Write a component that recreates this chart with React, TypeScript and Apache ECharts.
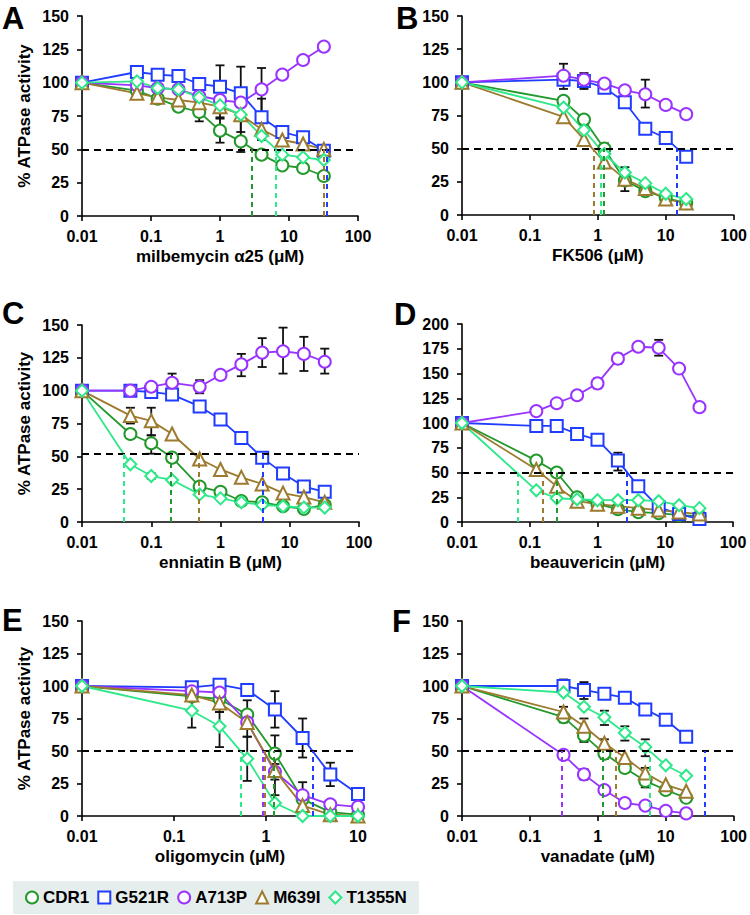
import React, { useEffect, useRef } from 'react';
import * as echarts from 'echarts';

// ---------- shared ----------
const SERIES_NAMES = ['CDR1', 'G521R', 'A713P', 'M639I', 'T1355N'];
const COLORS = ['#22992a', '#1f3cff', '#9933ff', '#9c7a2e', '#2ee88a'];
const SYMBOLS = ['circle', 'rect', 'circle', 'triangle', 'diamond'];
const X_TICK_LABELS = ['0.01', '0.1', '1', '10', '100'];

// ---------- Panel A: milbemycin α25 ----------
const A_X = [0.01, 0.0625, 0.125, 0.25, 0.5, 1, 2, 4, 8, 16, 32];
const A_CDR1 = [100, 94, 88, 82, 78, 64, 56, 46, 38, 36, 30];
const A_G521R = [100, 108, 106, 105, 99, 97, 92, 74, 63, 59, 49];
const A_A713P = [100, 98, 96, 95, 90, 87, 85, 95, 106, 117, 127];
const A_M639I = [100, 92, 89, 87, 85, 82, 76, 65, 57, 54, 50];
const A_T1355N = [100, 101, 96, 95, 89, 83, 76, 60, 46, 44, 42];
const A_IC50 = [2.85, 35.5, null, 31.8, 6.4];
const A_ERR = [[0.5, 71, 85], [1, 73, 113], [1, 55, 74], [2, 48, 112], [2, 63, 88], [4, 57, 111], [4, 62, 88]];

// ---------- Panel B: FK506 ----------
const B_X = [0.01, 0.3125, 0.625, 1.25, 2.5, 5, 10, 20];
const B_CDR1 = [100, 86, 72, 50, 26, 18, 13, 9];
const B_G521R = [100, 102, 101, 96, 85, 65, 58, 44];
const B_A713P = [100, 105, 102, 99, 94, 91, 83, 76];
const B_M639I = [100, 74, 57, 40, 27, 20, 12, 9];
const B_T1355N = [100, 81, 64, 46, 32, 24, 16, 12];
const B_IC50 = [1.23, 14.7, null, 0.88, 1.1];
const B_ERR = [[0.3125, 95, 114], [0.625, 95, 107], [5, 81, 102], [2.5, 18, 36], [1.25, 44, 54]];

// ---------- Panel C: enniatin B ----------
const C_X = [0.01, 0.05, 0.1, 0.2, 0.5, 1, 2, 4, 8, 16, 32];
const C_CDR1 = [100, 67, 60, 49, 27, 23, 16, 15, 12, 10, 13];
const C_G521R = [100, 100, 99, 97, 88, 78, 64, 49, 37, 27, 23];
const C_A713P = [100, 100, 103, 106, 103, 112, 120, 129, 130, 128, 122];
const C_M639I = [100, 81, 77, 67, 48, 40, 34, 29, 22, 19, 15];
const C_T1355N = [100, 44, 35, 32, 21, 18, 15, 13, 12, 11, 11];
const C_IC50 = [0.19, 4.1, null, 0.49, 0.04];
const C_ERR = [[0.2, 100, 113], [0.5, 98, 108], [2, 111, 128], [4, 118, 140], [8, 113, 148], [16, 115, 141], [32, 113, 132], [0.05, 75, 87], [0.1, 66, 87], [0.1, 52, 66], [0.1, 33, 37]];

// ---------- Panel D: beauvericin ----------
const D_X = [0.01, 0.125, 0.25, 0.5, 1, 2, 4, 8, 16, 32];
const D_CDR1 = [100, 62, 50, 25, 18, 13, 10, 9, 7, 6];
const D_G521R = [100, 97, 97, 89, 83, 62, 36, 15, 8, 3];
const D_A713P = [100, 112, 120, 128, 140, 165, 177, 176, 155, 116];
const D_M639I = [100, 53, 36, 21, 18, 16, 14, 12, 10, 8];
const D_T1355N = [100, 32, 24, 23, 22, 22, 22, 21, 17, 14];
const D_IC50 = [0.25, 2.69, null, 0.156, 0.067];
const D_ERR = [[8, 168, 184], [2, 52, 70], [2, 160, 170], [1, 135, 145]];

// ---------- Panel E: oligomycin ----------
const E_X = [0.01, 0.15625, 0.3125, 0.625, 1.25, 2.5, 5, 10];
const E_CDR1 = [100, 92, 90, 78, 48, 13, 3, 1];
const E_G521R = [100, 99, 101, 97, 82, 60, 32, 17];
const E_A713P = [100, 96, 95, 72, 34, 16, 9, 7];
const E_M639I = [100, 93, 87, 72, 35, 8, 1, 0];
const E_T1355N = [100, 81, 69, 44, 10, 0, 0, 0];
const E_IC50 = [1.22, 3.24, 0.93, 0.98, 0.53];
const E_ERR = [[0.15625, 68, 92], [0.3125, 53, 80], [0.3125, 80, 93], [0.625, 61, 89], [0.625, 27, 61], [1.25, 68, 96], [1.25, 28, 62], [1.25, 16, 40], [2.5, 45, 75], [2.5, 5, 26], [5, 23, 41]];

// ---------- Panel F: vanadate ----------
const F_X = [0.01, 0.3125, 0.625, 1.25, 2.5, 5, 10, 20];
const F_CDR1 = [100, 76, 62, 48, 37, 27, 20, 14];
const F_G521R = [100, 100, 97, 94, 91, 82, 74, 61];
const F_A713P = [100, 47, 32, 20, 10, 8, 4, 2];
const F_M639I = [100, 80, 69, 56, 45, 33, 24, 19];
const F_T1355N = [100, 95, 84, 76, 64, 53, 39, 31];
const F_IC50 = [1.18, 37, 0.29, 1.86, 5.9];
const F_ERR = [[0.3125, 95, 105], [0.625, 90, 103], [1.25, 70, 81], [2.5, 58, 69], [5, 46, 59], [0.3125, 72, 84], [0.625, 57, 75], [1.25, 44, 59], [5, 22, 37], [0.625, 28, 36]];

const PANELS = [
  { letter: 'A', title: 'milbemycin α25 (μM)', x: A_X, ys: [A_CDR1, A_G521R, A_A713P, A_M639I, A_T1355N], ic50: A_IC50, err: A_ERR, ref: 50, xMax: 100, yMax: 150 },
  { letter: 'B', title: 'FK506 (μM)', x: B_X, ys: [B_CDR1, B_G521R, B_A713P, B_M639I, B_T1355N], ic50: B_IC50, err: B_ERR, ref: 50, xMax: 100, yMax: 150 },
  { letter: 'C', title: 'enniatin B (μM)', x: C_X, ys: [C_CDR1, C_G521R, C_A713P, C_M639I, C_T1355N], ic50: C_IC50, err: C_ERR, ref: 52, xMax: 100, yMax: 150 },
  { letter: 'D', title: 'beauvericin (μM)', x: D_X, ys: [D_CDR1, D_G521R, D_A713P, D_M639I, D_T1355N], ic50: D_IC50, err: D_ERR, ref: 50, xMax: 100, yMax: 200 },
  { letter: 'E', title: 'oligomycin (μM)', x: E_X, ys: [E_CDR1, E_G521R, E_A713P, E_M639I, E_T1355N], ic50: E_IC50, err: E_ERR, ref: 50, xMax: 10, yMax: 150 },
  { letter: 'F', title: 'vanadate (μM)', x: F_X, ys: [F_CDR1, F_G521R, F_A713P, F_M639I, F_T1355N], ic50: F_IC50, err: F_ERR, ref: 50, xMax: 100, yMax: 150 },
];

// layout (pixels)
const GRIDS = [
  { left: 82, top: 16, width: 276, height: 200 },
  { left: 462, top: 16, width: 272, height: 199 },
  { left: 82, top: 325, width: 277, height: 197 },
  { left: 462, top: 324, width: 271, height: 198 },
  { left: 82, top: 621, width: 276, height: 195 },
  { left: 462, top: 621, width: 272, height: 195 },
];
const LETTER_POS = [[2, 3], [396, 3], [2, 298], [394, 299], [2, 605], [392, 606]];

const FONT = '"Liberation Sans", Arial, sans-serif';

export default function App() {
  const ref = useRef<HTMLDivElement>(null);
  useEffect(() => {
    document.body.style.margin = '0';
    if (!ref.current) return;
    const chart = echarts.init(ref.current, null, { renderer: 'svg' });

    const axisText = { fontFamily: FONT, fontWeight: 'bold', fontSize: 16, color: '#000' };
    const nameText = { fontFamily: FONT, fontWeight: 'bold', fontSize: 17, color: '#000' };

    const xAxis = PANELS.map((p, i) => ({
      type: 'log', logBase: 10, gridIndex: i, min: 0.01, max: p.xMax,
      name: p.title, nameLocation: 'middle', nameGap: 32, nameTextStyle: nameText,
      axisLine: { show: true, lineStyle: { color: '#000', width: 1.6 } },
      axisTick: { show: true, length: 5, lineStyle: { color: '#000', width: 1.6 } },
      minorTick: { show: false }, splitLine: { show: false }, minorSplitLine: { show: false },
      axisLabel: {
        ...axisText, margin: 12,
        formatter: (v: number) => X_TICK_LABELS[Math.round(Math.log10(v)) + 2],
      },
    }));

    const yAxis = PANELS.map((p, i) => ({
      type: 'value', gridIndex: i, min: 0, max: p.yMax, interval: 25,
      name: i % 2 === 0 ? '% ATPase activity' : '', nameLocation: 'middle', nameGap: 49, nameTextStyle: nameText,
      axisLine: { show: true, lineStyle: { color: '#000', width: 1.6 } },
      axisTick: { show: true, length: 5, lineStyle: { color: '#000', width: 1.6 } },
      splitLine: { show: false },
      axisLabel: { ...axisText, margin: 13 },
    }));

    const series: any[] = [];
    PANELS.forEach((p, i) => {
      // error bars
      series.push({
        type: 'custom', xAxisIndex: i, yAxisIndex: i, z: 1, silent: true, clip: false,
        encode: { x: 0, y: [1, 2] },
        data: p.err,
        renderItem: (_params: any, api: any) => {
          const xv = api.value(0);
          const lo = api.coord([xv, api.value(1)]);
          const hi = api.coord([xv, api.value(2)]);
          const w = 4.5;
          const st = { stroke: '#111', lineWidth: 1.8 };
          return {
            type: 'group',
            children: [
              { type: 'line', shape: { x1: lo[0], y1: lo[1], x2: hi[0], y2: hi[1] }, style: st },
              { type: 'line', shape: { x1: lo[0] - w, y1: lo[1], x2: lo[0] + w, y2: lo[1] }, style: st },
              { type: 'line', shape: { x1: hi[0] - w, y1: hi[1], x2: hi[0] + w, y2: hi[1] }, style: st },
            ],
          };
        },
      });
      SERIES_NAMES.forEach((name, s) => {
        const c = COLORS[s];
        const mlData: any[] = [];
        if (s === 0) {
          mlData.push([
            { coord: [0.01, p.ref], lineStyle: { color: '#000', width: 2, type: [7, 5] } },
            { coord: [p.xMax, p.ref] },
          ]);
        }
        const ic = p.ic50[s];
        if (ic != null) {
          mlData.push([
            { coord: [ic, 0], lineStyle: { color: c, width: 2, type: [5, 4] } },
            { coord: [ic, p.ref] },
          ]);
        }
        series.push({
          type: 'line', name, xAxisIndex: i, yAxisIndex: i, z: 3, clip: false,
          data: p.x.map((xv, k) => [xv, p.ys[s][k]]),
          symbol: SYMBOLS[s], symbolSize: s === 3 ? 13 : 12,
          itemStyle: { color: '#fff', borderColor: c, borderWidth: 2 },
          lineStyle: { color: c, width: 1.8 },
          markLine: {
            silent: true, symbol: ['none', 'none'], label: { show: false },
            emphasis: { disabled: true }, animation: false,
            data: mlData,
          },
        });
      });
    });

    const option: any = {
      animation: false,
      backgroundColor: '#fff',
      grid: GRIDS.map((g) => ({ ...g, containLabel: false })),
      xAxis, yAxis, series,
      legend: {
        left: 13, top: 881, orient: 'horizontal',
        backgroundColor: '#e6eded', padding: [8, 12, 8, 12],
        itemWidth: 12, itemHeight: 12, itemGap: 8,
        selectedMode: false,
        lineStyle: { opacity: 0 },
        textStyle: { fontFamily: FONT, fontWeight: 'bold', fontSize: 17, color: '#000' },
        data: SERIES_NAMES.map((n, s) => ({
          name: n, icon: SYMBOLS[s],
          itemStyle: { color: '#fff', borderColor: COLORS[s], borderWidth: 2 },
        })),
      },
      graphic: PANELS.map((p, i) => ({
        type: 'text', left: LETTER_POS[i][0], top: LETTER_POS[i][1],
        style: { text: p.letter, font: `bold 31px ${FONT}`, fill: '#000' },
      })),
    };
    chart.setOption(option);
    return () => chart.dispose();
  }, []);
  return <div ref={ref} style={{ width: 750, height: 915, position: 'absolute', left: 0, top: 0 }} />;
}
